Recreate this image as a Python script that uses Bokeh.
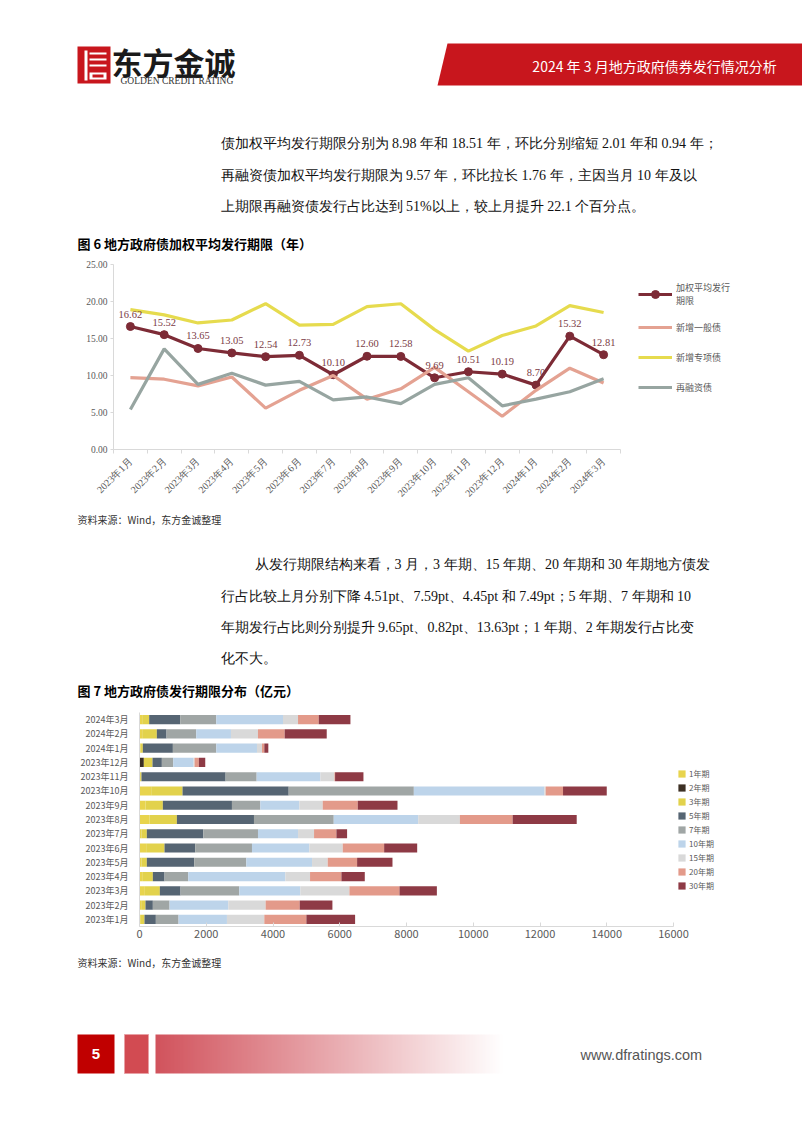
import numpy as np
from bokeh.plotting import figure
from bokeh.layouts import column
from bokeh.models import (Range1d, ColumnDataSource, LabelSet, Legend, LegendItem,
                          FixedTicker, NumeralTickFormatter, FactorRange)
from bokeh.core.properties import value
from bokeh.embed import file_html
from bokeh.resources import INLINE

# ---------------- data ----------------
months = ["2023年1月", "2023年2月", "2023年3月", "2023年4月", "2023年5月", "2023年6月",
          "2023年7月", "2023年8月", "2023年9月", "2023年10月", "2023年11月", "2023年12月",
          "2024年1月", "2024年2月", "2024年3月"]

avg_term = [16.62, 15.52, 13.65, 13.05, 12.54, 12.73, 10.10, 12.60, 12.58, 9.69, 10.51, 10.19, 8.70, 15.32, 12.81]
general_term = [9.7, 9.5, 8.6, 9.8, 5.6, 8.0, 10.0, 6.8, 8.2, 11.1, 7.8, 4.5, 8.0, 10.99, 8.98]
special_term = [18.9, 18.2, 17.1, 17.5, 19.7, 16.8, 16.9, 19.3, 19.7, 16.2, 13.3, 15.4, 16.7, 19.45, 18.51]
refin_term = [5.4, 13.6, 8.8, 10.3, 8.7, 9.2, 6.7, 7.1, 6.2, 8.8, 9.7, 5.9, 6.8, 7.81, 9.57]
line_names = ["加权平均发行\n期限", "新增一般债", "新增专项债", "再融资债"]

periods = ["1年期", "2年期", "3年期", "5年期", "7年期", "10年期", "15年期", "20年期", "30年期"]
y1 = [40, 50, 160, 100, 60, 200, 60, 300, 180, 350, 20, 0, 30, 80, 80]
y2 = [0, 0, 0, 0, 0, 0, 0, 0, 0, 0, 0, 130, 0, 0, 0]
y3 = [110, 130, 450, 300, 160, 550, 160, 820, 520, 940, 40, 260, 70, 440, 210]
y5 = [340, 220, 620, 350, 1420, 920, 1690, 2310, 2070, 3180, 2520, 280, 900, 290, 930]
y7 = [680, 500, 1760, 710, 1560, 1700, 1640, 2390, 850, 3750, 930, 340, 1300, 890, 1080]
y10 = [1450, 1760, 1830, 2910, 1970, 1720, 1200, 2530, 1170, 3910, 1910, 610, 1220, 1040, 2000]
y15 = [1120, 1120, 1470, 740, 470, 1000, 480, 1250, 700, 40, 420, 30, 150, 810, 450]
y20 = [1260, 1020, 1500, 940, 880, 1240, 670, 1580, 1050, 520, 20, 130, 70, 800, 620]
y30 = [1460, 980, 1120, 700, 1060, 990, 320, 1920, 1190, 1310, 850, 190, 120, 1260, 950]

# ---------------- styles ----------------
W = 802
SANS = "Noto Sans CJK SC"
SERIF = "Liberation Serif"
RED = "#C8161D"
GREY_TXT = "#595959"
AXIS_GREY = "#D9D9D9"


def page_fig(h):
    f = figure(width=W, height=h, x_range=Range1d(0, W), y_range=Range1d(h, 0),
               output_backend="svg", toolbar_location=None, min_border=0,
               x_axis_location=None, y_axis_location=None)
    f.frame_align = False
    f.grid.visible = False
    f.outline_line_color = None
    f.background_fill_color = "white"
    f.border_fill_color = "white"
    return f


def txt(f, x, y, s, size, color="#000000", font=SANS, style="normal", align="left"):
    f.text(x=[x], y=[y], text=[s], text_font=value(font), text_font_size=size,
           text_color=color, text_font_style=style, text_align=align, text_baseline="middle")


# ---------------- header + paragraph 1 + title 6 ----------------
f1 = page_fig(255)
f1.patch(x=[447, 802, 802, 437], y=[43, 43, 85, 85], color=RED, line_color=None)
txt(f1, 654, 65, "2024 年 3 月地方政府债券发行情况分析", "14px", "white", SANS, "normal", "center")
# logo icon
f1.quad(left=[77], right=[110], top=[46], bottom=[83], color=RED, line_color=None)
f1.quad(left=[84, 89, 89, 89, 89], right=[87, 106, 106, 106, 106],
        top=[50, 52, 58, 64, 72], bottom=[80, 54, 60, 66, 79], color="white", line_color=None)
f1.quad(left=[92], right=[103], top=[74], bottom=[77], color=RED, line_color=None)
txt(f1, 111, 61, "东方金诚", "31px", "#1a1a1a", SANS, "bold")
txt(f1, 120, 80, "GOLDEN CREDIT RATING", "9.5px", "#333333", SERIF)

para1 = ["债加权平均发行期限分别为 8.98 年和 18.51 年，环比分别缩短 2.01 年和 0.94 年；",
         "再融资债加权平均发行期限为 9.57 年，环比拉长 1.76 年，主因当月 10 年及以",
         "上期限再融资债发行占比达到 51%以上，较上月提升 22.1 个百分点。"]
for i, s in enumerate(para1):
    txt(f1, 220, [143, 175, 206][i], s, "14px", "#111111", SERIF)
txt(f1, 77, 243, "图 6  地方政府债加权平均发行期限（年）", "13px", "#000000", SANS, "bold")

# ---------------- chart 6 ----------------
# frame spans to the page edge; the category axis itself only covers 15 slots
xs = list(range(len(months)))
x_end1 = -0.5 + len(months) * (W - 113) / 507.0
p1 = figure(width=W, height=250, x_range=Range1d(-0.5, x_end1), y_range=Range1d(0, 25),
            output_backend="svg", toolbar_location=None,
            min_border_left=113, min_border_right=0, min_border_top=9, min_border_bottom=53)
p1.frame_align = False
p1.outline_line_color = None
p1.grid.visible = False
src1 = ColumnDataSource(dict(x=xs, avg=avg_term, gen=general_term, spe=special_term, ref=refin_term,
                             lbl=["%.2f" % v for v in avg_term]))
c_avg, c_gen, c_spe, c_ref = "#7D2B36", "#E4A292", "#E6DB4E", "#97A5A1"
r_avg = p1.line("x", "avg", source=src1, color=c_avg, line_width=3.2)
r_avg_m = p1.scatter("x", "avg", source=src1, size=8, color=c_avg)
r_gen = p1.line("x", "gen", source=src1, color=c_gen, line_width=3.2)
r_spe = p1.line("x", "spe", source=src1, color=c_spe, line_width=3.2)
r_ref = p1.line("x", "ref", source=src1, color=c_ref, line_width=3.2)
p1.add_layout(LabelSet(x="x", y="avg", text="lbl", source=src1, y_offset=9, text_align="center",
                       text_baseline="bottom", text_font=value(SERIF), text_font_size="10.5px",
                       text_color="#7B3B45"))
ax = p1.xaxis[0]
ax.bounds = (-0.5, len(months) - 0.5)
ax.ticker = FixedTicker(ticks=xs, minor_ticks=[i - 0.5 for i in range(len(months) + 1)])
ax.major_label_overrides = {i: m for i, m in enumerate(months)}
ax.major_label_orientation = np.pi / 4
ax.major_tick_line_color = None
ax.minor_tick_in = 0
ax.minor_tick_out = 4
ax.minor_tick_line_color = AXIS_GREY
ax.axis_line_color = AXIS_GREY
ax.major_label_text_font = SERIF
ax.major_label_text_font_size = "10px"
ax.major_label_text_color = GREY_TXT
ax.major_label_standoff = 4
ay = p1.yaxis[0]
ay.ticker = FixedTicker(ticks=[0, 5, 10, 15, 20, 25])
ay.formatter = NumeralTickFormatter(format="0.00")
ay.major_tick_in = 0
ay.major_tick_out = 3
ay.major_tick_line_color = AXIS_GREY
ay.minor_tick_line_color = None
ay.axis_line_color = AXIS_GREY
ay.major_label_text_font = SERIF
ay.major_label_text_font_size = "9.5px"
ay.major_label_text_color = GREY_TXT
ay.major_label_standoff = 3
leg1 = Legend(items=[LegendItem(label=line_names[0], renderers=[r_avg, r_avg_m]),
                     LegendItem(label=line_names[1], renderers=[r_gen]),
                     LegendItem(label=line_names[2], renderers=[r_spe]),
                     LegendItem(label=line_names[3], renderers=[r_ref])],
              location=(525, 52), glyph_width=34, glyph_height=20, label_height=20, spacing=10,
              padding=0, margin=0, label_standoff=4, label_text_font=SANS,
              label_text_font_size="9px", label_text_color=GREY_TXT,
              background_fill_alpha=0, border_line_color=None)
p1.add_layout(leg1)

# ---------------- source + paragraph 2 + title 7 ----------------
f2 = page_fig(200)
txt(f2, 77, 14, "资料来源：Wind，东方金诚整理", "10px", "#333333", SANS)
para2 = ["从发行期限结构来看，3 月，3 年期、15 年期、20 年期和 30 年期地方债发",
         "行占比较上月分别下降 4.51pt、7.59pt、4.45pt 和 7.49pt；5 年期、7 年期和 10",
         "年期发行占比则分别提升 9.65pt、0.82pt、13.63pt；1 年期、2 年期发行占比变",
         "化不大。"]
for i, s in enumerate(para2):
    txt(f2, 254 if i == 0 else 220, [59, 91, 122, 153][i], s, "14px", "#111111", SERIF)
txt(f2, 77, 185, "图 7  地方政府债发行期限分布（亿元）", "13px", "#000000", SANS, "bold")

# ---------------- chart 7 ----------------
bar_colors = ["#E8D44D", "#3C3024", "#E2D24C", "#566573", "#A0A6A5", "#BDD4EA", "#D9D9D9", "#E39A8A", "#8E3A45"]
src2 = ColumnDataSource(dict(month=months, **{k: v for k, v in zip(periods, [y1, y2, y3, y5, y7, y10, y15, y20, y30])}))
x_max2 = 16000
x_end2 = x_max2 * (W - 139) / 534.0
p2 = figure(width=W, height=245, x_range=Range1d(0, x_end2), y_range=FactorRange(*months),
            output_backend="svg", toolbar_location=None,
            min_border_left=139, min_border_right=0, min_border_top=7, min_border_bottom=24)
p2.frame_align = False
p2.outline_line_color = None
p2.grid.visible = False
rs = p2.hbar_stack(periods, y="month", height=0.64, color=bar_colors, line_color=None, source=src2)
bx = p2.xaxis[0]
bx.bounds = (0, x_max2)
bx.ticker = FixedTicker(ticks=list(range(0, x_max2 + 1, 2000)))
bx.formatter = NumeralTickFormatter(format="0")
bx.major_tick_in = 4
bx.major_tick_out = 0
bx.major_tick_line_color = AXIS_GREY
bx.minor_tick_line_color = None
bx.axis_line_color = AXIS_GREY
bx.major_label_text_font = SANS
bx.major_label_text_font_size = "11px"
bx.major_label_text_color = GREY_TXT
bx.major_label_standoff = 3
by = p2.yaxis[0]
by.major_tick_line_color = None
by.axis_line_color = AXIS_GREY
by.major_label_text_font = SANS
by.major_label_text_font_size = "9px"
by.major_label_text_color = GREY_TXT
by.major_label_standoff = 5
leg2 = Legend(items=[LegendItem(label=n, renderers=[r]) for n, r in zip(periods, rs)],
              location=(538, 35), glyph_width=9, glyph_height=9, label_height=9, spacing=3,
              padding=0, margin=0, label_standoff=3, label_text_font=SANS,
              label_text_font_size="8px", label_text_color=GREY_TXT,
              background_fill_alpha=0, border_line_color=None)
p2.add_layout(leg2)

# ---------------- source + footer ----------------
f3 = page_fig(183)
txt(f3, 77, 12, "资料来源：Wind，东方金诚整理", "10px", "#333333", SANS)
f3.quad(left=[77], right=[114], top=[84], bottom=[123], color="#C00000", line_color=None)
txt(f3, 95.5, 103, "5", "15px", "white", "Liberation Sans", "bold", "center")
f3.quad(left=[124], right=[148], top=[84], bottom=[123], color="#D24B52", line_color="#E8A0A4", line_width=1)
# gradient band (decoration)
n = 350
grad = np.zeros((1, n), dtype=np.uint32)
view = grad.view(dtype=np.uint8).reshape((1, n, 4))
view[0, :, 0] = 207
view[0, :, 1] = 75
view[0, :, 2] = 85
view[0, :, 3] = np.linspace(245, 0, n).astype(np.uint8)
f3.image_rgba(image=[grad], x=155, y=84, dw=350, dh=39)
txt(f3, 580, 104, "www.dfratings.com", "14.5px", "#555555", "Liberation Sans")

page = column(f1, p1, f2, p2, f3, spacing=0)
open("out.html", "w").write(file_html(page, INLINE))
